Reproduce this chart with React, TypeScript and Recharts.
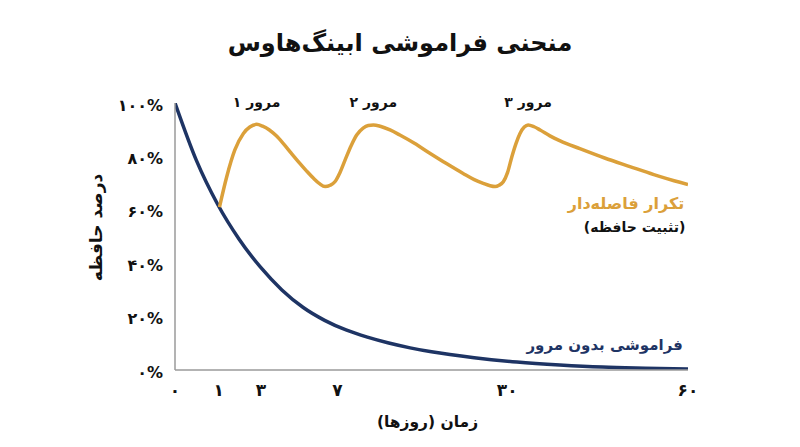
import React from "react";
import { LineChart, Line, XAxis, YAxis, ReferenceDot } from "recharts";

// x positions are on the chart's (non-linear) time axis, in axis units 0..12
const tickPositions = [0, 1.02, 2.01, 3.8, 7.77, 12];
const tickLabels = ["0", "1", "3", "7", "30", "60"];
const yTicks = [0, 20, 40, 60, 80, 100];

const forgetX = [0, 0.5, 1, 1.5, 2, 2.5, 3, 3.5, 4, 4.5, 5, 5.5, 6, 7, 8, 9, 10, 11, 12];
const forgetY = [100, 78.5, 62, 49, 38.5, 30, 23.4, 18.6, 15, 12.3, 10.1, 8.3, 6.8, 4.6, 3.0, 1.9, 1.1, 0.7, 0.4];

const spacedX = [
  1.04, 1.21, 1.4, 1.6, 1.75, 1.91,
  2.05, 2.2, 2.37, 2.53, 2.72, 2.92, 3.08, 3.24, 3.38, 3.51,
  3.63, 3.74, 3.86, 3.98, 4.12, 4.25, 4.4, 4.52, 4.64,
  4.8, 5.03, 5.26, 5.6, 5.97, 6.35, 6.74, 7.0, 7.21, 7.37, 7.49,
  7.58, 7.68, 7.78, 7.88, 7.98, 8.07, 8.17, 8.26,
  8.4, 8.54, 8.77, 9.01, 9.47, 10.05, 10.64, 11.2, 11.81, 12,
];
const spacedY = [
  61, 72.4, 82.4, 88.6, 91, 92,
  91.3, 90, 87.7, 84.9, 81.2, 77.4, 74.5, 71.8, 69.8, 68.7,
  69.2, 70.5, 74, 78.7, 84, 88, 90.6, 91.6, 91.8,
  91.3, 89.9, 88, 84.9, 81.1, 77.3, 73.6, 71.3, 69.9, 69, 68.7,
  69.2, 70.5, 74, 79.9, 85, 88.6, 91, 91.8,
  91.1, 89.9, 87.7, 85.8, 82.9, 79.4, 76.2, 73.2, 70.3, 69.5,
];

const reviewLabels = ["مرور ۱", "مرور ۲", "مرور ۳"];
const reviewX = [1.91, 4.64, 8.26];
const reviewY = [100.4, 100.4, 100.4];

const title = "منحنی فراموشی ابینگ‌هاوس";
const yTitle = "درصد حافظه";
const xTitle = "زمان (روزها)";
const spacedLabel = "تکرار فاصله‌دار";
const spacedSub = "(تثبیت حافظه)";
const forgetLabel = "فراموشی بدون مرور";

const NAVY = "#1e3464";
const ORANGE = "#dba03a";
const FONT = "'DejaVu Sans', sans-serif";

const forgetData = forgetX.map((x, i) => ({ x, v: forgetY[i] }));
const spacedData = spacedX.map((x, i) => ({ x, v: spacedY[i] }));

const fa = (s: string) => s.replace(/[0-9]/g, (d) => "۰۱۲۳۴۵۶۷۸۹"[+d]);

const XTick = (props: any) => {
  const { x, y, payload } = props;
  const idx = tickPositions.indexOf(payload.value);
  return (
    <text x={x} y={y + 14} textAnchor="middle" dominantBaseline="central" fontFamily={FONT} fontWeight="bold" fontSize={17} fill="#111">
      {fa(tickLabels[idx] ?? "")}
    </text>
  );
};

const YTick = (props: any) => {
  const { x, y, payload } = props;
  return (
    <text x={x} y={y + 2} textAnchor="end" dominantBaseline="central" fontFamily={FONT} fontWeight="bold" fontSize={16} fill="#111">
      {fa(String(payload.value)) + "%"}
    </text>
  );
};

const YTitle = (props: any) => {
  const { x, y, height } = props.viewBox;
  const cx = x - 19;
  const cy = y + height / 2 - 9;
  return (
    <text x={cx} y={cy} transform={`rotate(-90 ${cx} ${cy})`} textAnchor="middle" dominantBaseline="central" fontFamily={FONT} fontWeight="bold" fontSize={17} fill="#111" style={{ direction: "rtl" }}>
      {yTitle}
    </text>
  );
};

const XTitle = (props: any) => {
  const { x, y, width } = props.viewBox;
  return (
    <text x={x + width / 2 - 4} y={y + 52} textAnchor="middle" dominantBaseline="central" fontFamily={FONT} fontWeight="bold" fontSize={15.5} fill="#111" style={{ direction: "rtl" }}>
      {xTitle}
    </text>
  );
};

const textShape = (label: string, color: string, size: number) => (props: any) => (
  <text x={props.cx} y={props.cy} textAnchor="middle" dominantBaseline="central" fontFamily={FONT} fontWeight="bold" fontSize={size} fill={color} style={{ direction: "rtl" }}>
    {label}
  </text>
);

export default function App() {
  return (
    <div style={{ position: "absolute", left: 0, top: 0, width: 800, height: 447, background: "#fff" }}>
      <div style={{ position: "absolute", left: 0, top: 24, width: 800, textAlign: "center", fontFamily: FONT, fontWeight: "bold", fontSize: 24, lineHeight: "38px", color: "#111", direction: "rtl" }}>
        {title}
      </div>
      <LineChart width={800} height={447} margin={{ top: 103, right: 112, bottom: 47, left: 115 }}>
        <XAxis
          type="number"
          dataKey="x"
          domain={[0, 12]}
          ticks={tickPositions}
          interval={0}
          tick={<XTick />}
          tickLine={false}
          tickSize={0}
          tickMargin={6}
          stroke="#9a9a9a"
          strokeWidth={1.5}
          height={30}
          label={<XTitle />}
          allowDataOverflow
        />
        <YAxis
          type="number"
          domain={[0, 100]}
          ticks={yTicks}
          interval={0}
          tick={<YTick />}
          tickLine={false}
          tickSize={0}
          tickMargin={12}
          stroke="#9a9a9a"
          strokeWidth={1.5}
          width={60}
          label={<YTitle />}
          allowDataOverflow
        />
        <Line data={forgetData} dataKey="v" type="monotone" stroke={NAVY} strokeWidth={3.5} dot={false} isAnimationActive={false} />
        <Line data={spacedData} dataKey="v" type="monotone" stroke={ORANGE} strokeWidth={3.5} dot={false} isAnimationActive={false} />
        {reviewLabels.map((l, i) => (
          <ReferenceDot key={l} x={reviewX[i]} y={reviewY[i]} r={0} ifOverflow="visible" shape={textShape(l, "#111", 14)} />
        ))}
        <ReferenceDot x={10.55} y={62.5} r={0} ifOverflow="visible" shape={textShape(spacedLabel, ORANGE, 16)} />
        <ReferenceDot x={10.75} y={53.6} r={0} ifOverflow="visible" shape={textShape(spacedSub, "#111", 14)} />
        <ReferenceDot x={10.05} y={9.4} r={0} ifOverflow="visible" shape={textShape(forgetLabel, NAVY, 15)} />
      </LineChart>
    </div>
  );
}
